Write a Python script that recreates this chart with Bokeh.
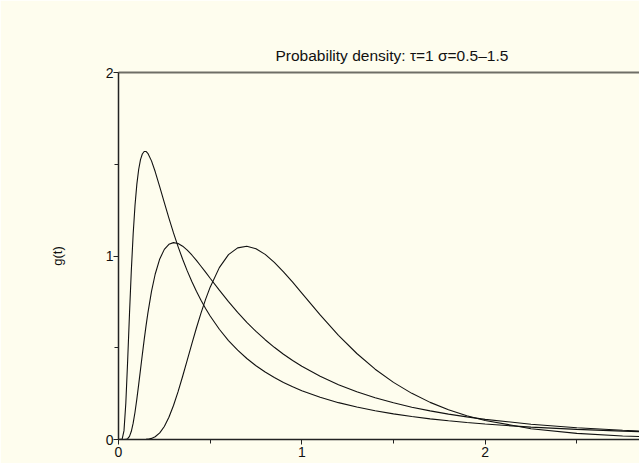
from bokeh.plotting import figure
from bokeh.models import Range1d, FixedTicker, LinearAxis
from bokeh.embed import file_html
from bokeh.resources import INLINE

# time grid
t = [0.0, 0.02, 0.03, 0.04, 0.05, 0.06, 0.07, 0.08, 0.09, 0.10,
     0.11, 0.12, 0.13, 0.14, 0.15, 0.16, 0.18, 0.20,
     0.225, 0.25, 0.275, 0.30, 0.325, 0.35, 0.375, 0.40, 0.425, 0.45, 0.475, 0.50,
     0.55, 0.60, 0.65, 0.70, 0.75, 0.80, 0.85, 0.90, 0.95, 1.0,
     1.1, 1.2, 1.3, 1.4, 1.5, 1.6, 1.7, 1.8, 1.9, 2.0,
     2.25, 2.5, 2.75, 3.0]

# sigma = 1.5
g_s15 = [0.0, 0.0022, 0.0482, 0.1987, 0.4308, 0.6860, 0.9221, 1.1196, 1.2750, 1.3903,
         1.4715, 1.5248, 1.5558, 1.5695, 1.5697, 1.5597, 1.5184, 1.4603,
         1.3769, 1.2905, 1.2060, 1.1259, 1.0512, 0.9822, 0.9188, 0.8607, 0.8075, 0.7588, 0.7141, 0.6731,
         0.6008, 0.5393, 0.4867, 0.4413, 0.4020, 0.3676, 0.3374, 0.3107, 0.2871, 0.2660,
         0.2301, 0.2008, 0.1767, 0.1565, 0.1395, 0.1250, 0.1125, 0.1018, 0.0924, 0.0841,
         0.0675, 0.0551, 0.0455, 0.0381]

# sigma = 1.0
g_s10 = [0.0, 0.0, 0.0, 0.0005, 0.0043, 0.0172, 0.0447, 0.0889, 0.1484, 0.2198,
         0.2987, 0.3810, 0.4629, 0.5426, 0.6178, 0.6872, 0.8070, 0.9005,
         0.9840, 1.0361, 1.0638, 1.0729, 1.0682, 1.0536, 1.0320, 1.0055, 0.9759, 0.9443, 0.9117, 0.8788,
         0.8136, 0.7512, 0.6928, 0.6388, 0.5891, 0.5438, 0.5024, 0.4647, 0.4303, 0.3989,
         0.3442, 0.2985, 0.2600, 0.2275, 0.1998, 0.1761, 0.1558, 0.1383, 0.1231, 0.1098,
         0.0835, 0.0644, 0.0501, 0.0394]

# sigma = 0.5
g_s05 = [0.0, 0.0, 0.0, 0.0, 0.0, 0.0, 0.0, 0.0, 0.0, 0.0,
         0.0, 0.0, 0.0, 0.0004, 0.0009, 0.0018, 0.0060, 0.0148,
         0.0359, 0.0709, 0.1210, 0.1851, 0.2608, 0.3446, 0.4326, 0.5213, 0.6077, 0.6890, 0.7636, 0.8302,
         0.9367, 1.0072, 1.0444, 1.0535, 1.0398, 1.0089, 0.9656, 0.9139, 0.8571, 0.7979,
         0.6791, 0.5678, 0.4687, 0.3832, 0.3112, 0.2514, 0.2023, 0.1623, 0.1299, 0.1038,
         0.0589, 0.0334, 0.0189, 0.0107]

x_ticks = [0, 1, 2]
x_minor = [0.5, 1.5, 2.5]
y_ticks = [0, 1, 2]
y_minor = [0.5, 1.5]
title_text = "Probability density: \u03c4=1 \u03c3=0.5\u20131.5"
y_label = "g(t)"

BG = "#fefdee"
FONT = "Liberation Sans"

p = figure(width=639, height=463, output_backend="svg", toolbar_location=None,
           x_range=Range1d(0, 2.842), y_range=Range1d(0, 2),
           min_border_left=118, min_border_right=0, min_border_top=72,
           min_border_bottom=24, background_fill_color=BG,
           border_fill_color=BG, outline_line_color=None,
           title=title_text)

p.title.align = "left"
p.title.offset = 157
p.title.text_font = FONT
p.title.text_font_size = "15.5px"
p.title.text_font_style = "normal"
p.title.text_color = "#111111"
p.title.standoff = 17

p.xgrid.visible = False
p.ygrid.visible = False

for ys in (g_s15, g_s10, g_s05):
    p.line(t, ys, line_color="#111111", line_width=1.1)

for ax, ticks, minor in ((p.xaxis[0], x_ticks, x_minor), (p.yaxis[0], y_ticks, y_minor)):
    ax.ticker = FixedTicker(ticks=ticks, minor_ticks=minor)
    ax.axis_line_color = "#222222"
    ax.axis_line_width = 1.5
    ax.major_tick_in = 0
    ax.major_tick_out = 5
    ax.minor_tick_in = 0
    ax.minor_tick_out = 4
    ax.major_tick_line_color = "#222222"
    ax.minor_tick_line_color = "#222222"
    ax.major_label_text_font = FONT
    ax.major_label_text_font_size = "14px"
    ax.major_label_text_color = "#111111"

p.yaxis[0].major_label_standoff = 0
p.xaxis[0].major_label_standoff = 2
p.yaxis[0].axis_label = y_label
p.yaxis[0].axis_label_text_font = FONT
p.yaxis[0].axis_label_text_font_style = "normal"
p.yaxis[0].axis_label_text_font_size = "13px"
p.yaxis[0].axis_label_text_color = "#111111"
p.yaxis[0].axis_label_standoff = 38

top = LinearAxis(ticker=FixedTicker(ticks=[]), major_label_text_font_size="0px",
                 major_tick_line_color=None, minor_tick_line_color=None,
                 major_label_standoff=0,
                 axis_line_color="#6e6e66", axis_line_width=2)
p.add_layout(top, "above")

open("out.html", "w").write(file_html(p, INLINE))
